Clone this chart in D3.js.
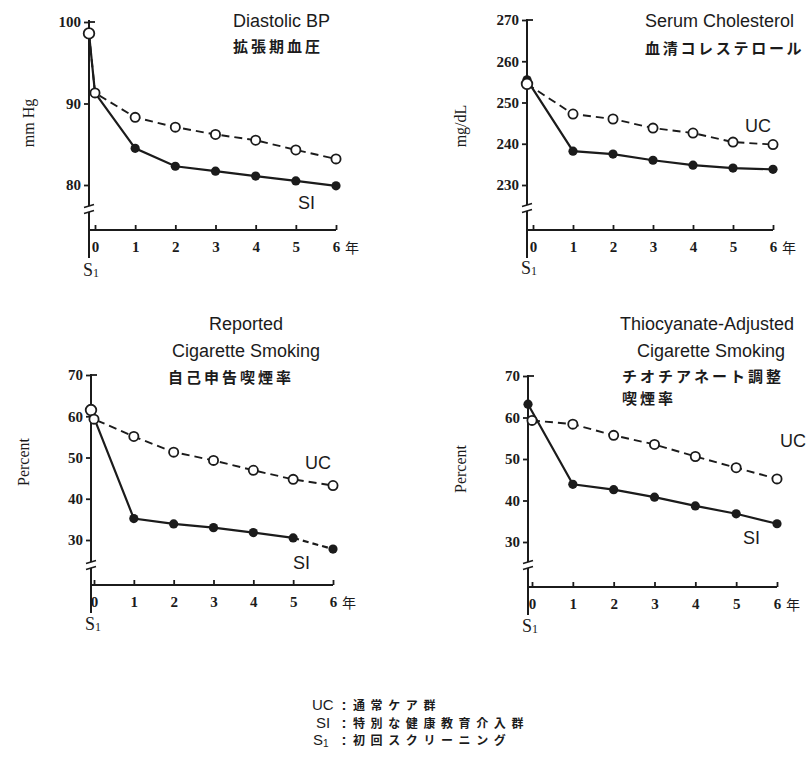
<!DOCTYPE html>
<html><head><meta charset="utf-8">
<script src="https://cdn.jsdelivr.net/npm/d3@7"></script>
<style>body{margin:0;background:#fff} svg{display:block}</style>
</head><body>
<script>
// ---------- data ----------
const timepoints = ["S1","0","1","2","3","4","5","6"];
const yearTicks = [0,1,2,3,4,5,6];

const bpSI = [98.6, 91.3, 84.5, 82.3, 81.7, 81.1, 80.5, 79.9];
const bpUC = [98.6, 91.3, 88.3, 87.1, 86.2, 85.5, 84.3, 83.2];
const bpTicks = [80, 90, 100];

const cholSI = [255.5, null, 238.2, 237.5, 236.0, 234.8, 234.1, 233.8];
const cholUC = [254.5, null, 247.2, 246.0, 243.8, 242.6, 240.4, 239.8];
const cholTicks = [230, 240, 250, 260, 270];

const repSI = [61.5, null, 35.2, 33.9, 33.0, 31.8, 30.5, 27.8];
const repUC = [61.5, 59.3, 55.1, 51.3, 49.3, 46.9, 44.7, 43.2];
const thioSI = [63.2, null, 43.9, 42.6, 40.8, 38.7, 36.8, 34.4];
const thioUC = [null, 59.3, 58.4, 55.7, 53.5, 50.6, 47.9, 45.2];
const pctTicks = [30, 40, 50, 60, 70];

const bpTitle = ["Diastolic BP", "拡張期血圧"];
const cholTitle = ["Serum Cholesterol", "血清コレステロール"];
const repTitle = ["Reported", "Cigarette Smoking", "自己申告喫煙率"];
const thioTitle = ["Thiocyanate-Adjusted", "Cigarette Smoking", "チオチアネート調整", "喫煙率"];
const yUnits = ["mm Hg", "mg/dL", "Percent", "Percent"];
const legendKeys = ["UC", "SI", "S"];
const legendTexts = ["通常ケア群", "特別な健康教育介入群", "初回スクリーニング"];
const yearUnit = "年";

// ---------- layout ----------
const W = 811, H = 759;
const svg = d3.select("body").append("svg").attr("width", W).attr("height", H);
const INK = "#1b1b1b";
const SANS = "'Liberation Sans', Arial, sans-serif";
const SERIF = "'Liberation Serif', 'Times New Roman', serif";
const CJK = "'Noto Sans CJK JP', sans-serif";

const panels = [
  { ax: 89, x0: 95, x6: 336, ydom: [80, 100], yr: [185, 22], top: 20, brk: 209, xy: 230, bot: 258,
    si: bpSI, uc: bpUC, ticks: bpTicks, unit: yUnits[0], unitX: 30, unitY: 123, s1y: 276 },
  { ax: 527, x0: 533, x6: 773, ydom: [230, 270], yr: [185, 20], top: 19, brk: 208, xy: 230, bot: 258,
    si: cholSI, uc: cholUC, ticks: cholTicks, unit: yUnits[1], unitX: 462, unitY: 126, s1y: 274 },
  { ax: 91, x0: 94, x6: 333, ydom: [30, 70], yr: [540, 375], top: 374, brk: 565, xy: 585, bot: 613,
    si: repSI, uc: repUC, ticks: pctTicks, unit: yUnits[2], unitX: 25, unitY: 462, s1y: 630, dashLast: true },
  { ax: 528, x0: 532, x6: 777, ydom: [30, 70], yr: [542, 376], top: 375, brk: 565, xy: 587, bot: 615,
    si: thioSI, uc: thioUC, ticks: pctTicks, unit: yUnits[3], unitX: 462, unitY: 469, s1y: 632 }
];

panels.forEach(p => {
  const g = svg.append("g");
  const x = d3.scaleLinear().domain([0, 6]).range([p.x0, p.x6]);
  const y = d3.scaleLinear().domain(p.ydom).range(p.yr);
  const xp = t => t === "S1" ? p.ax : x(+t);

  // y axis ticks via d3.axisLeft
  const ya = g.append("g").attr("transform", `translate(${p.ax},0)`)
    .call(d3.axisLeft(y).tickValues(p.ticks).tickSize(5).tickPadding(3).tickFormat(d3.format("d")));
  ya.select(".domain").remove();
  ya.selectAll("line").attr("stroke", INK).attr("stroke-width", 1.8);
  ya.selectAll("text").attr("font-family", SERIF).attr("font-weight", "bold")
    .attr("font-size", 15).attr("fill", INK);
  // top tick to the right
  g.append("line").attr("x1", p.ax).attr("x2", p.ax + 6)
    .attr("y1", y(p.ydom[1])).attr("y2", y(p.ydom[1]))
    .attr("stroke", INK).attr("stroke-width", 1.8);

  // y axis line with break
  g.append("line").attr("x1", p.ax).attr("x2", p.ax).attr("y1", p.top).attr("y2", p.brk - 3)
    .attr("stroke", INK).attr("stroke-width", 2);
  g.append("line").attr("x1", p.ax).attr("x2", p.ax).attr("y1", p.brk + 3).attr("y2", p.bot)
    .attr("stroke", INK).attr("stroke-width", 2);
  [-3, 3].forEach(o => g.append("line")
    .attr("x1", p.ax - 5).attr("x2", p.ax + 5)
    .attr("y1", p.brk + o + 1.5).attr("y2", p.brk + o - 1.5)
    .attr("stroke", INK).attr("stroke-width", 1.6));

  // x axis via d3.axisBottom with upward ticks
  const xa = g.append("g").attr("transform", `translate(0,${p.xy})`)
    .call(d3.axisBottom(x).tickValues(yearTicks).tickSizeInner(-5).tickSizeOuter(0)
      .tickPadding(11).tickFormat(d3.format("d")));
  xa.select(".domain").remove();
  xa.selectAll("line").attr("stroke", INK).attr("stroke-width", 1.8);
  xa.selectAll("text").attr("font-family", SERIF).attr("font-weight", "bold")
    .attr("font-size", 15).attr("fill", INK);
  g.append("line").attr("x1", p.ax).attr("x2", x(6)).attr("y1", p.xy).attr("y2", p.xy)
    .attr("stroke", INK).attr("stroke-width", 2);
  g.append("text").attr("x", x(6) + 16).attr("y", p.xy + 23).attr("text-anchor", "middle")
    .attr("font-family", CJK).attr("font-size", 14).attr("fill", INK).text(yearUnit);

  // S1 label
  const s1 = g.append("text").attr("x", p.ax - 6).attr("y", p.s1y)
    .attr("font-family", SERIF).attr("font-size", 18).attr("fill", INK);
  s1.append("tspan").text("S");
  s1.append("tspan").attr("font-size", 12).attr("dy", 1).text("1");

  // unit label
  g.append("text").attr("transform", `translate(${p.unitX},${p.unitY}) rotate(-90)`)
    .attr("text-anchor", "middle").attr("dominant-baseline", "middle")
    .attr("font-family", SERIF).attr("font-size", 16).attr("fill", INK).text(p.unit);

  const pts = arr => timepoints.map((t, i) => ({ t, v: arr[i] })).filter(d => d.v != null);
  const line = d3.line().x(d => xp(d.t)).y(d => y(d.v));

  // UC dashed
  g.append("path").attr("d", line(pts(p.uc))).attr("fill", "none")
    .attr("stroke", INK).attr("stroke-width", 1.9).attr("stroke-dasharray", "8,5");
  // SI solid (optionally last segment dashed)
  const sp = pts(p.si);
  const solid = p.dashLast ? sp.slice(0, -1) : sp;
  g.append("path").attr("d", line(solid)).attr("fill", "none")
    .attr("stroke", INK).attr("stroke-width", 2.2);
  if (p.dashLast) g.append("path").attr("d", line(sp.slice(-2))).attr("fill", "none")
    .attr("stroke", INK).attr("stroke-width", 2.2).attr("stroke-dasharray", "6,4");

  g.selectAll(".si").data(sp).join("circle").attr("class", "si")
    .attr("cx", d => xp(d.t)).attr("cy", d => y(d.v)).attr("r", 4.6).attr("fill", INK);
  g.selectAll(".uc").data(pts(p.uc)).join("circle").attr("class", "uc")
    .attr("cx", d => xp(d.t)).attr("cy", d => y(d.v)).attr("r", d => d.t === "S1" ? 5.3 : 4.6)
    .attr("fill", "#fff").attr("stroke", INK).attr("stroke-width", 1.8);
});

// ---------- titles ----------
const sansText = (x, yb, s, anchor) => svg.append("text").attr("x", x).attr("y", yb)
  .attr("text-anchor", anchor || "start").attr("font-family", SANS).attr("font-size", 18)
  .attr("fill", INK).text(s);
const cjkText = (x, yb, s, ls) => svg.append("text").attr("x", x).attr("y", yb)
  .attr("font-family", CJK).attr("font-size", 15).attr("letter-spacing", ls)
  .attr("font-weight", "bold").attr("fill", INK).text(s);

sansText(233, 27, bpTitle[0]);
cjkText(233, 52, bpTitle[1], 3);
sansText(645, 27, cholTitle[0]);
cjkText(645, 54, cholTitle[1], 2.7);
sansText(246, 330, repTitle[0], "middle");
sansText(246, 357, repTitle[1], "middle");
cjkText(168, 383, repTitle[2], 3);
sansText(707, 330, thioTitle[0], "middle");
sansText(711, 357, thioTitle[1], "middle");
cjkText(622, 382, thioTitle[2], 3);
cjkText(622, 404, thioTitle[3], 3);

// series labels
sansText(298, 209, "SI");
sansText(745, 132, "UC");
sansText(305, 469, "UC");
sansText(293, 569, "SI");
sansText(780, 447, "UC");
sansText(743, 544, "SI");

// ---------- legend ----------
const legY = [710, 728, 745];
const legX = [312, 316, 313];
legendKeys.forEach((k, i) => {
  const t = svg.append("text").attr("x", legX[i]).attr("y", legY[i])
    .attr("font-family", SANS).attr("font-size", 15).attr("fill", INK);
  t.append("tspan").text(k);
  if (k === "S") t.append("tspan").attr("font-size", 10).attr("dy", 2).text("1");
  svg.append("text").attr("x", 344).attr("y", legY[i]).attr("text-anchor", "middle")
    .attr("font-family", SANS).attr("font-size", 15).attr("font-weight", "bold").attr("fill", INK).text(":");
  svg.append("text").attr("x", 353).attr("y", legY[i])
    .attr("font-family", CJK).attr("font-size", 12).attr("letter-spacing", 5.6)
    .attr("font-weight", "bold").attr("fill", INK).text(legendTexts[i]);
});
</script>
</body></html>
